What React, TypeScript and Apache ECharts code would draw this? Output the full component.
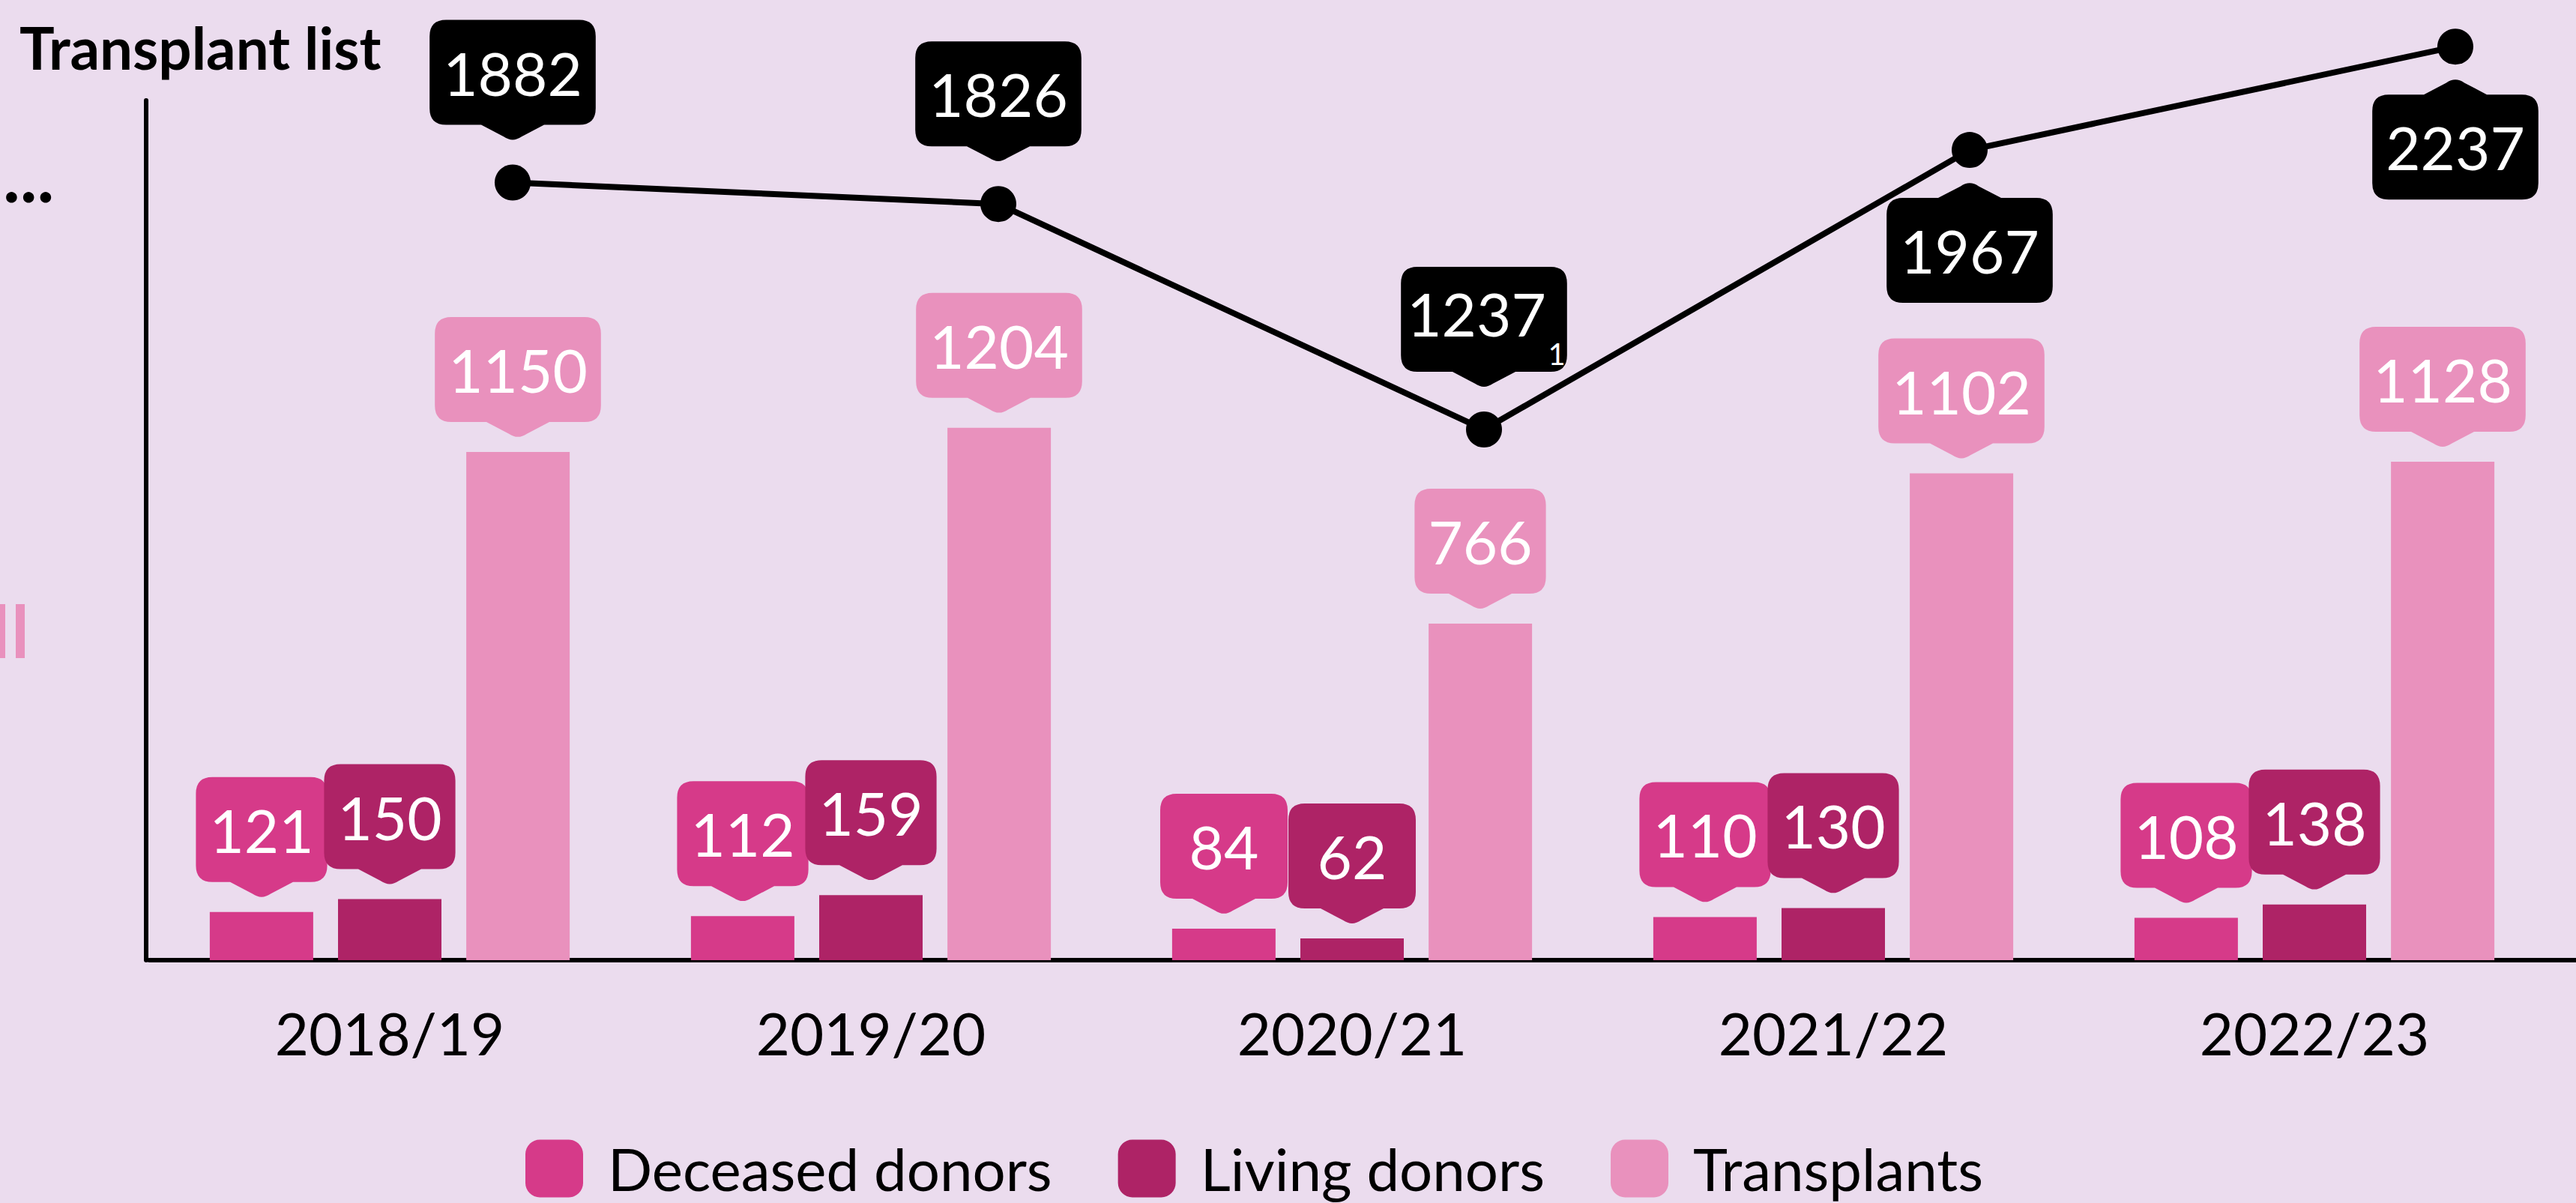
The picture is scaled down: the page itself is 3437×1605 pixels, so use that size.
import React, { useEffect, useRef } from "react";
import * as echarts from "echarts";

// ---- data ----
const categories = ["2018/19", "2019/20", "2020/21", "2021/22", "2022/23"];
const deceasedDonors = [121, 112, 84, 110, 108];
const livingDonors = [150, 159, 62, 130, 138];
const transplants = [1150, 1204, 766, 1102, 1128];
const transplantList = [1882, 1826, 1237, 1967, 2237];
const transplantListNotes = ["", "", "1", "", ""];
const seriesNames = ["Deceased donors", "Living donors", "Transplants"];

// ---- style ----
const FONT = "Lato";
const BG = "#ebdcee";
const C_DECEASED = "#d63a89";
const C_LIVING = "#ae2366";
const C_TRANSPLANTS = "#e991bd";
const BAR_W = 138;
const BAR_STEP = 171;
const BUBBLE_H = 140;
const BUBBLE_R = 22;
const TAIL_W = 84;
const TAIL_H = 22;
const MIN_W = 170;
const PAD_X = 18;
const LABEL_SIZE = 80;
const BAR_LABEL_GAP = 18;
const LINE_LABEL_GAP_ABOVE = 55;
const LINE_LABEL_GAP_BELOW = 42;

function bubbleWidth(v: number) {
  return Math.max(MIN_W, String(v).length * 0.58 * LABEL_SIZE + 2 * PAD_X);
}

function bubblePath(cx: number, top: number, w: number, h: number, tailDown: boolean) {
  const x0 = cx - w / 2, x1 = cx + w / 2, y0 = top, y1 = top + h, r = BUBBLE_R;
  const tw = TAIL_W / 2, th = TAIL_H, k = 12, kv = (th * k) / tw;
  let d = `M ${x0 + r} ${y0} `;
  if (!tailDown) {
    d += `L ${cx - tw} ${y0} L ${cx - k} ${y0 - th + kv} Q ${cx} ${y0 - th - 2} ${cx + k} ${y0 - th + kv} L ${cx + tw} ${y0} `;
  }
  d += `L ${x1 - r} ${y0} Q ${x1} ${y0} ${x1} ${y0 + r} L ${x1} ${y1 - r} Q ${x1} ${y1} ${x1 - r} ${y1} `;
  if (tailDown) {
    d += `L ${cx + tw} ${y1} L ${cx + k} ${y1 + th - kv} Q ${cx} ${y1 + th + 2} ${cx - k} ${y1 + th - kv} L ${cx - tw} ${y1} `;
  }
  d += `L ${x0 + r} ${y1} Q ${x0} ${y1} ${x0} ${y1 - r} L ${x0} ${y0 + r} Q ${x0} ${y0} ${x0 + r} ${y0} Z`;
  return d;
}

function bubbleGroup(cx: number, top: number, v: number, colour: string, tailDown: boolean, note: string) {
  const w = bubbleWidth(v);
  const children: any[] = [
    { type: "path", shape: { pathData: bubblePath(cx, top, w, BUBBLE_H, tailDown) }, style: { fill: colour } },
    {
      type: "text",
      style: {
        text: String(v),
        x: cx - (note ? 10 : 0),
        y: top + BUBBLE_H / 2 - (note ? 8 : 0),
        fill: "#ffffff",
        fontSize: LABEL_SIZE,
        fontFamily: FONT,
        align: "center",
        verticalAlign: "middle",
      },
    },
  ];
  if (note) {
    children.push({
      type: "text",
      style: {
        text: note,
        x: cx + 97,
        y: top + BUBBLE_H - 24,
        fill: "#ffffff",
        fontSize: 40,
        fontFamily: FONT,
        align: "center",
        verticalAlign: "middle",
      },
    });
  }
  return { type: "group", children };
}

function barBubbleSeries(values: number[], colour: string, xOffset: number) {
  return {
    type: "custom",
    name: "lbl",
    xAxisIndex: 0,
    yAxisIndex: 0,
    z: 3,
    silent: true,
    clip: false,
    data: values.map((v, i) => [i, v]),
    renderItem: (params: any, api: any) => {
      const i = api.value(0), v = api.value(1);
      const p = api.coord([i, v]);
      const tip = p[1] - BAR_LABEL_GAP;
      const top = tip - TAIL_H - BUBBLE_H;
      return bubbleGroup(p[0] + xOffset, top, v, colour, true, "");
    },
  };
}

export default function App() {
  const ref = useRef<HTMLDivElement>(null);
  useEffect(() => {
    if (!ref.current) return;
    const chart = echarts.init(ref.current, undefined, { renderer: "svg" });
    const barSeries = [deceasedDonors, livingDonors, transplants].map((vals, k) => ({
      type: "bar",
      name: seriesNames[k],
      data: vals,
      xAxisIndex: 0,
      yAxisIndex: 0,
      barWidth: BAR_W,
      barGap: "24%",
      z: 2,
      silent: true,
      itemStyle: { color: [C_DECEASED, C_LIVING, C_TRANSPLANTS][k] },
    }));
    const option: any = {
      animation: false,
      backgroundColor: BG,
      textStyle: { fontFamily: FONT },
      title: {
        text: "Transplant list",
        left: 26,
        top: 24,
        padding: 0,
        textStyle: { fontFamily: FONT, fontWeight: "bold", fontSize: 78, lineHeight: 78, color: "#000" },
      },
      legend: {
        data: seriesNames,
        left: 701,
        top: 1520,
        padding: 0,
        itemWidth: 77,
        itemHeight: 77,
        itemGap: 88,
        icon: "roundRect",
        selectedMode: false,
        textStyle: { fontFamily: FONT, fontSize: 78, color: "#000", padding: [0, 0, 0, 28] },
      },
      grid: [
        { left: 199, width: 3210, top: 134, height: 1147, outerBoundsMode: "none" },
        { left: 360, width: 3240, top: 30, height: 1175, outerBoundsMode: "none" },
      ],
      xAxis: [
        {
          type: "category",
          gridIndex: 0,
          data: categories,
          axisLine: { show: true, lineStyle: { color: "#000", width: 6 } },
          axisTick: { show: false },
          axisLabel: { fontFamily: FONT, fontSize: 78, lineHeight: 78, color: "#000", margin: 58 },
        },
        { type: "category", gridIndex: 1, data: categories, show: false },
      ],
      yAxis: [
        {
          type: "value",
          gridIndex: 0,
          min: 13.5,
          max: 1936,
          offset: 4,
          axisLine: { show: true, lineStyle: { color: "#000", width: 6 } },
          axisTick: { show: false },
          axisLabel: { show: false },
          splitLine: { show: false },
        },
        { type: "value", gridIndex: 1, min: 0, max: 2300, show: false, splitLine: { show: false } },
      ],
      series: [
        ...barSeries,
        barBubbleSeries(deceasedDonors, C_DECEASED, -BAR_STEP),
        barBubbleSeries(livingDonors, C_LIVING, 0),
        barBubbleSeries(transplants, C_TRANSPLANTS, BAR_STEP),
        {
          type: "line",
          name: "Transplant list",
          xAxisIndex: 1,
          yAxisIndex: 1,
          data: transplantList,
          z: 4,
          silent: true,
          symbol: "circle",
          symbolSize: 48,
          lineStyle: { color: "#000", width: 8 },
          itemStyle: { color: "#000" },
        },
        {
          type: "custom",
          name: "lineLbl",
          xAxisIndex: 1,
          yAxisIndex: 1,
          z: 5,
          silent: true,
          clip: false,
          data: transplantList.map((v, i) => [i, v]),
          renderItem: (params: any, api: any) => {
            const i = api.value(0), v = api.value(1);
            const p = api.coord([i, v]);
            const rising = i > 0 && v > transplantList[i - 1];
            let top;
            if (rising) {
              top = p[1] + LINE_LABEL_GAP_BELOW + TAIL_H;
            } else {
              top = p[1] - LINE_LABEL_GAP_ABOVE - TAIL_H - BUBBLE_H;
            }
            return bubbleGroup(p[0], top, v, "#000", !rising, transplantListNotes[i]);
          },
        },
      ],
      graphic: [
        { type: "line", shape: { x1: 3400, y1: 1281, x2: 3437, y2: 1281 }, style: { stroke: "#000", lineWidth: 6 }, silent: true },
        {
          type: "text",
          x: 4,
          y: 232,
          silent: true,
          style: { text: "...", fontSize: 96, fontWeight: "bold", fontFamily: FONT, fill: "#000", verticalAlign: "middle" },
        },
        { type: "rect", shape: { x: 0, y: 806, width: 7, height: 72 }, style: { fill: C_TRANSPLANTS }, silent: true },
        { type: "rect", shape: { x: 21, y: 806, width: 12, height: 72 }, style: { fill: C_TRANSPLANTS }, silent: true },
      ],
    };
    chart.setOption(option);
    return () => chart.dispose();
  }, []);
  return (
    <div
      ref={ref}
      style={{ position: "fixed", left: 0, top: 0, width: 3437, height: 1605 }}
    />
  );
}
